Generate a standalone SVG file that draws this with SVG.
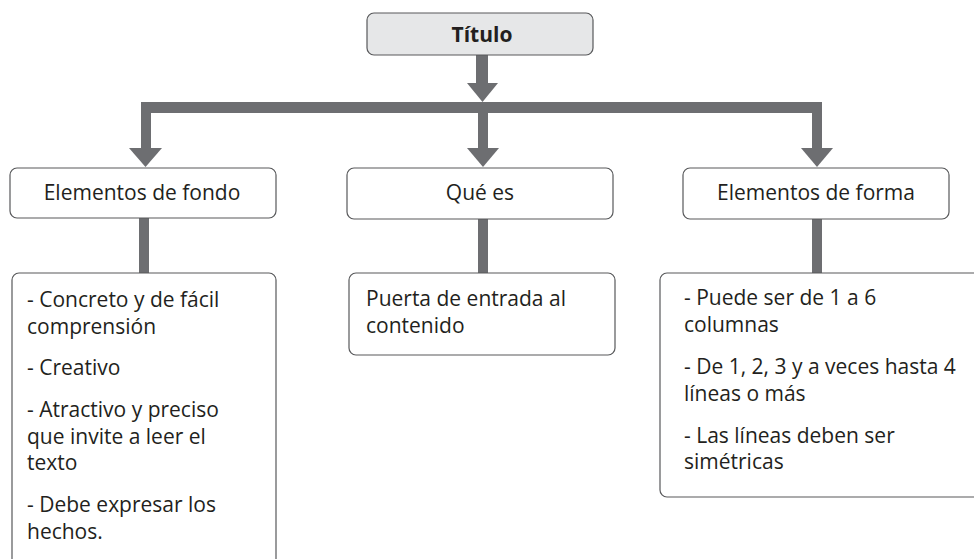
<svg xmlns="http://www.w3.org/2000/svg" width="974" height="559" viewBox="0 0 974 559">
<style>
.box{fill:#ffffff;stroke:#58595b;stroke-width:1.2}
.title{fill:#e6e7e8;stroke:#58595b;stroke-width:1.2}
.t{font-family:"Open Sans","Liberation Sans",sans-serif;font-size:21px;fill:#231f20}
.c{text-anchor:middle}
.b{font-weight:bold}
.conn{fill:#6d6e71}
</style>
<rect width="974" height="559" fill="#ffffff"/>
<g id="connectors" class="conn">
  <rect x="476" y="55" width="12" height="29"/>
  <polygon points="467,83 498,83 482.5,102"/>
  <rect x="141" y="102" width="681" height="11"/>
  <rect x="141" y="102" width="10" height="47"/>
  <polygon points="129,148 162,148 145.5,167"/>
  <rect x="478" y="113" width="10" height="36"/>
  <polygon points="467,148 499,148 483,167"/>
  <rect x="812" y="102" width="10" height="47"/>
  <polygon points="801,148 833,148 817,167"/>
  <rect x="139" y="218" width="10" height="55"/>
  <rect x="478" y="219" width="10" height="54"/>
  <rect x="812" y="219" width="10" height="54"/>
</g>
<g id="titulo">
  <rect class="title" x="367" y="13" width="226" height="42" rx="7"/>
  <text class="t c b" x="482" y="42">Título</text>
</g>
<g id="fondo">
  <rect class="box" x="10" y="168" width="266" height="50" rx="7"/>
  <text class="t c" x="142" y="200">Elementos de fondo</text>
</g>
<g id="quees">
  <rect class="box" x="347" y="168" width="266" height="51" rx="7"/>
  <text class="t c" x="480" y="200">Qué es</text>
</g>
<g id="forma">
  <rect class="box" x="683" y="168" width="266" height="51" rx="7"/>
  <text class="t c" x="816" y="200">Elementos de forma</text>
</g>
<g id="fondo-detalle">
  <rect class="box" x="12" y="273" width="264" height="320" rx="7"/>
  <text class="t" x="27" y="307">- Concreto y de fácil</text>
  <text class="t" x="27" y="334">comprensión</text>
  <text class="t" x="27" y="375">- Creativo</text>
  <text class="t" x="27" y="417">- Atractivo y preciso</text>
  <text class="t" x="27" y="444">que invite a leer el</text>
  <text class="t" x="27" y="470">texto</text>
  <text class="t" x="27" y="512">- Debe expresar los</text>
  <text class="t" x="27" y="539">hechos.</text>
</g>
<g id="quees-detalle">
  <rect class="box" x="349" y="273" width="266" height="82" rx="7"/>
  <text class="t" x="366" y="306">Puerta de entrada al</text>
  <text class="t" x="366" y="333">contenido</text>
</g>
<g id="forma-detalle">
  <rect class="box" x="660" y="273" width="340" height="224" rx="7"/>
  <text class="t" x="684" y="305">- Puede ser de 1 a 6</text>
  <text class="t" x="684" y="332">columnas</text>
  <text class="t" x="684" y="374">- De 1, 2, 3 y a veces hasta 4</text>
  <text class="t" x="684" y="401">líneas o más</text>
  <text class="t" x="684" y="443">- Las líneas deben ser</text>
  <text class="t" x="684" y="469">simétricas</text>
</g>
</svg>
